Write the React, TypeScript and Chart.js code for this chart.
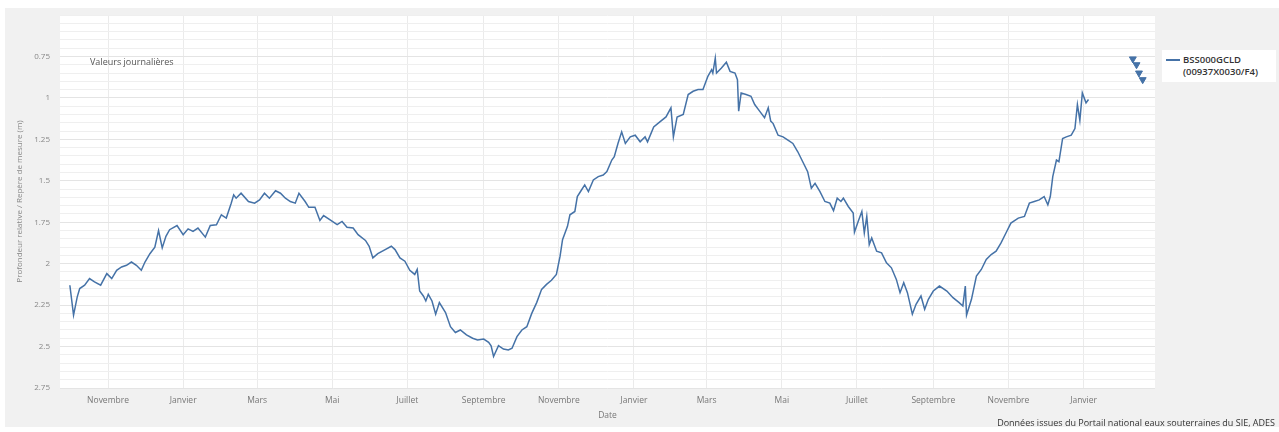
import React, { useEffect, useRef } from 'react';
import { Chart, registerables } from 'chart.js';

Chart.register(...registerables);

// Days counted from the first "Novembre" tick (1 November)
const dayOffsets: number[] = [
  -31, -28, -25, -23, -19, -15, -11, -6, -1, 3, 7, 11, 15, 19, 23, 27, 30, 34, 38, 41, 44, 47, 50, 56, 61,
  65, 69, 73, 79, 83, 88, 92, 96, 100, 102, 104, 108, 114, 119, 123, 127, 131, 136, 140, 144, 148, 152, 155,
  160, 163, 168, 172, 175, 180, 186, 190, 194, 199, 203, 209, 212, 215, 219, 225, 230, 233, 237, 241, 245,
  249, 251, 253, 256, 258, 260, 263, 266, 269, 274, 278, 282, 286, 291, 296, 300, 305, 309, 311, 313, 317,
  321, 325, 328, 332, 336, 340, 344, 348, 352, 356, 360, 364, 367, 369, 373, 375, 379, 381, 384, 387, 390,
  394, 398, 402, 405, 409, 411, 414, 417, 420, 424, 428, 432, 436, 438, 443, 448, 453, 457, 459, 462, 467,
  471, 475, 479, 483, 487, 490, 491, 493, 494, 498, 502, 505, 509, 511, 512, 514, 518, 522, 525, 529, 533,
  536, 538, 540, 544, 548, 552, 556, 560, 564, 568, 571, 574, 578, 582, 586, 589, 592, 595, 597, 601, 605,
  606, 609, 612, 614, 616, 618, 620, 624, 628, 632, 636, 640, 643, 646, 649, 653, 656, 660, 663, 666, 670,
  675, 681, 686, 691, 694, 696, 697, 701, 705, 709, 713, 717, 721, 725, 729, 733, 739, 744, 748, 752, 756,
  760, 763, 765, 767, 770, 772, 775, 778, 782, 785, 787, 789, 791, 794, 796,
];

const depthValues: number[] = [
  2.13, 2.31, 2.2, 2.15, 2.13, 2.09, 2.11, 2.13, 2.06, 2.09, 2.04, 2.02, 2.01, 1.99, 2.01, 2.04, 1.99, 1.94,
  1.9, 1.8, 1.905, 1.835, 1.795, 1.77, 1.825, 1.79, 1.805, 1.785, 1.84, 1.77, 1.765, 1.705, 1.725, 1.635,
  1.585, 1.605, 1.575, 1.625, 1.635, 1.615, 1.575, 1.605, 1.56, 1.575, 1.605, 1.625, 1.635, 1.575, 1.625,
  1.66, 1.66, 1.74, 1.71, 1.735, 1.765, 1.745, 1.78, 1.785, 1.825, 1.86, 1.895, 1.965, 1.94, 1.915, 1.895,
  1.915, 1.965, 1.985, 2.04, 2.065, 2.035, 2.165, 2.195, 2.225, 2.185, 2.225, 2.305, 2.235, 2.295, 2.38,
  2.415, 2.4, 2.43, 2.45, 2.46, 2.455, 2.475, 2.495, 2.56, 2.495, 2.515, 2.52, 2.51, 2.44, 2.4, 2.38, 2.3,
  2.235, 2.155, 2.125, 2.1, 2.065, 1.955, 1.855, 1.775, 1.705, 1.685, 1.595, 1.56, 1.525, 1.565, 1.495,
  1.475, 1.465, 1.445, 1.375, 1.355, 1.275, 1.205, 1.275, 1.235, 1.225, 1.265, 1.235, 1.265, 1.175, 1.145,
  1.115, 1.06, 1.235, 1.115, 1.1, 0.98, 0.96, 0.95, 0.95, 0.87, 0.83, 0.85, 0.76, 0.85, 0.82, 0.785, 0.84,
  0.85, 0.89, 1.08, 0.97, 0.98, 0.99, 1.04, 1.08, 1.12, 1.06, 1.14, 1.155, 1.225, 1.235, 1.255, 1.275,
  1.325, 1.385, 1.445, 1.545, 1.515, 1.565, 1.625, 1.635, 1.68, 1.605, 1.625, 1.605, 1.655, 1.695, 1.81,
  1.745, 1.685, 1.815, 1.715, 1.885, 1.845, 1.925, 1.935, 1.995, 2.025, 2.095, 2.175, 2.115, 2.175, 2.305,
  2.245, 2.195, 2.275, 2.215, 2.165, 2.135, 2.165, 2.205, 2.235, 2.255, 2.135, 2.31, 2.215, 2.075, 2.035,
  1.975, 1.945, 1.925, 1.875, 1.815, 1.755, 1.725, 1.715, 1.635, 1.625, 1.615, 1.595, 1.645, 1.595, 1.475,
  1.375, 1.385, 1.245, 1.235, 1.225, 1.185, 1.04, 1.135, 0.97, 1.03, 1.01,
];

// Down-pointing triangle markers at the right of the series
const markerDays: number[] = [832, 835, 837, 840];
const markerValues: number[] = [0.765, 0.8, 0.85, 0.89];

// Month ticks (1st of month, every two months) and their labels
const monthTickDays: number[] = [0, 61, 121, 182, 243, 305, 366, 427, 486, 547, 608, 670, 731, 792];
const xTickLabels: string[] = [
  'Novembre', 'Janvier', 'Mars', 'Mai', 'Juillet', 'Septembre',
  'Novembre', 'Janvier', 'Mars', 'Mai', 'Juillet', 'Septembre',
  'Novembre', 'Janvier',
];

const yTickLabels: number[] = [0.75, 1, 1.25, 1.5, 1.75, 2, 2.25, 2.5, 2.75];
const Y_MIN = 0.5;
const Y_MAX = 2.75;
const Y_MINOR_STEP = 0.05;
const X_MIN = -39;
const X_MAX = 850;

const LINE_COLOR = '#4572A7';
const FONT = '"Open Sans", "DejaVu Sans", sans-serif';

const W = 1274;
const H = 419;

export default function App() {
  const ref = useRef<HTMLCanvasElement>(null);

  useEffect(() => {
    const canvas = ref.current;
    if (!canvas) return;

    const plotBg = {
      id: 'plotBg',
      beforeDraw(chart: any) {
        const { ctx, chartArea } = chart;
        ctx.save();
        ctx.fillStyle = '#ffffff';
        ctx.fillRect(chartArea.left, chartArea.top, chartArea.right - chartArea.left, chartArea.bottom - chartArea.top);
        ctx.restore();
      },
    };

    const isMajor = (v: number) => yTickLabels.some((t) => Math.abs(t - v) < 1e-6);

    const chart = new Chart(canvas, {
      type: 'line',
      data: {
        datasets: [
          {
            label: 'BSS000GCLD (00937X0030/F4)',
            data: dayOffsets.map((d, i) => ({ x: d, y: depthValues[i] })),
            borderColor: LINE_COLOR,
            backgroundColor: LINE_COLOR,
            borderWidth: 1.5,
            pointRadius: 0,
            tension: 0,
            fill: false,
          },
          {
            label: 'markers',
            data: markerDays.map((d, i) => ({ x: d, y: markerValues[i] })),
            showLine: false,
            pointStyle: 'triangle',
            rotation: 180,
            pointRadius: 4,
            borderWidth: 1,
            borderColor: LINE_COLOR,
            backgroundColor: LINE_COLOR,
          },
        ],
      },
      options: {
        animation: false,
        responsive: false,
        devicePixelRatio: 1,
        layout: { padding: { top: 0, right: 124, left: 0, bottom: 0 } },
        plugins: {
          legend: { display: false },
          tooltip: { enabled: false },
        },
        scales: {
          x: {
            type: 'linear',
            min: X_MIN,
            max: X_MAX,
            border: { display: false },
            grid: {
              color: '#ebebeb',
              drawTicks: false,
              lineWidth: 1,
            },
            afterBuildTicks: (scale: any) => {
              scale.ticks = monthTickDays.map((v) => ({ value: v }));
            },
            afterFit: (scale: any) => {
              scale.height = H - 380;
            },
            ticks: {
              autoSkip: false,
              maxRotation: 0,
              padding: 7,
              color: '#777',
              font: { family: FONT, size: 8.5 },
              callback: (_v: any, i: number) => xTickLabels[i],
            },
            title: {
              display: true,
              text: 'Date',
              color: '#777',
              font: { family: FONT, size: 8.5 },
              padding: 6,
            },
          },
          y: {
            type: 'linear',
            min: Y_MIN,
            max: Y_MAX,
            reverse: true,
            border: { display: false },
            grid: {
              drawTicks: false,
              color: (ctx: any) => (ctx.tick && isMajor(ctx.tick.value) ? '#e4e4e4' : '#efefef'),
            },
            afterBuildTicks: (scale: any) => {
              const ticks: { value: number }[] = [];
              const n = Math.round((Y_MAX - Y_MIN) / Y_MINOR_STEP);
              for (let i = 0; i <= n; i++) ticks.push({ value: +(Y_MIN + i * Y_MINOR_STEP).toFixed(2) });
              scale.ticks = ticks;
            },
            afterFit: (scale: any) => {
              scale.width = 55;
              scale.paddingTop = 7;
              scale.paddingBottom = 0;
            },
            ticks: {
              autoSkip: false,
              padding: 10,
              color: '#888',
              font: { family: FONT, size: 8 },
              callback: (v: any) => (isMajor(Number(v)) ? String(Number(v)) : ''),
            },
            title: {
              display: true,
              text: 'Profondeur relative / Repère de mesure (m)',
              color: '#888',
              font: { family: FONT, size: 8 },
              padding: 10,
            },
          },
        },
      },
      plugins: [plotBg],
    } as any);

    return () => chart.destroy();
  }, []);

  return (
    <div
      style={{
        position: 'absolute',
        left: 5,
        top: 8,
        width: W,
        height: H,
        background: '#f1f1f1',
        fontFamily: FONT,
      }}
    >
      <canvas ref={ref} width={W} height={H} style={{ display: 'block', width: W, height: H }} />
      <div
        style={{
          position: 'absolute',
          left: 85,
          top: 48,
          fontSize: 9,
          lineHeight: '12px',
          color: '#555',
          whiteSpace: 'nowrap',
        }}
      >
        Valeurs journalières
      </div>
      <div
        style={{
          position: 'absolute',
          left: 1157,
          top: 42,
          width: 114,
          height: 32,
          background: '#ffffff',
        }}
      >
        <div
          style={{
            position: 'absolute',
            left: 4,
            top: 9,
            width: 14,
            height: 1.5,
            background: LINE_COLOR,
          }}
        />
        <div
          style={{
            position: 'absolute',
            left: 21,
            top: 4,
            fontSize: 9.5,
            lineHeight: '12px',
            color: '#333',
            fontWeight: 600,
            whiteSpace: 'nowrap',
          }}
        >
          BSS000GCLD
          <br />
          (00937X0030/F4)
        </div>
      </div>
      <div
        style={{
          position: 'absolute',
          right: 4,
          top: 409,
          fontSize: 9,
          lineHeight: '12px',
          color: '#333',
          whiteSpace: 'nowrap',
        }}
      >
        Données issues du Portail national eaux souterraines du SIE, ADES
      </div>
    </div>
  );
}
